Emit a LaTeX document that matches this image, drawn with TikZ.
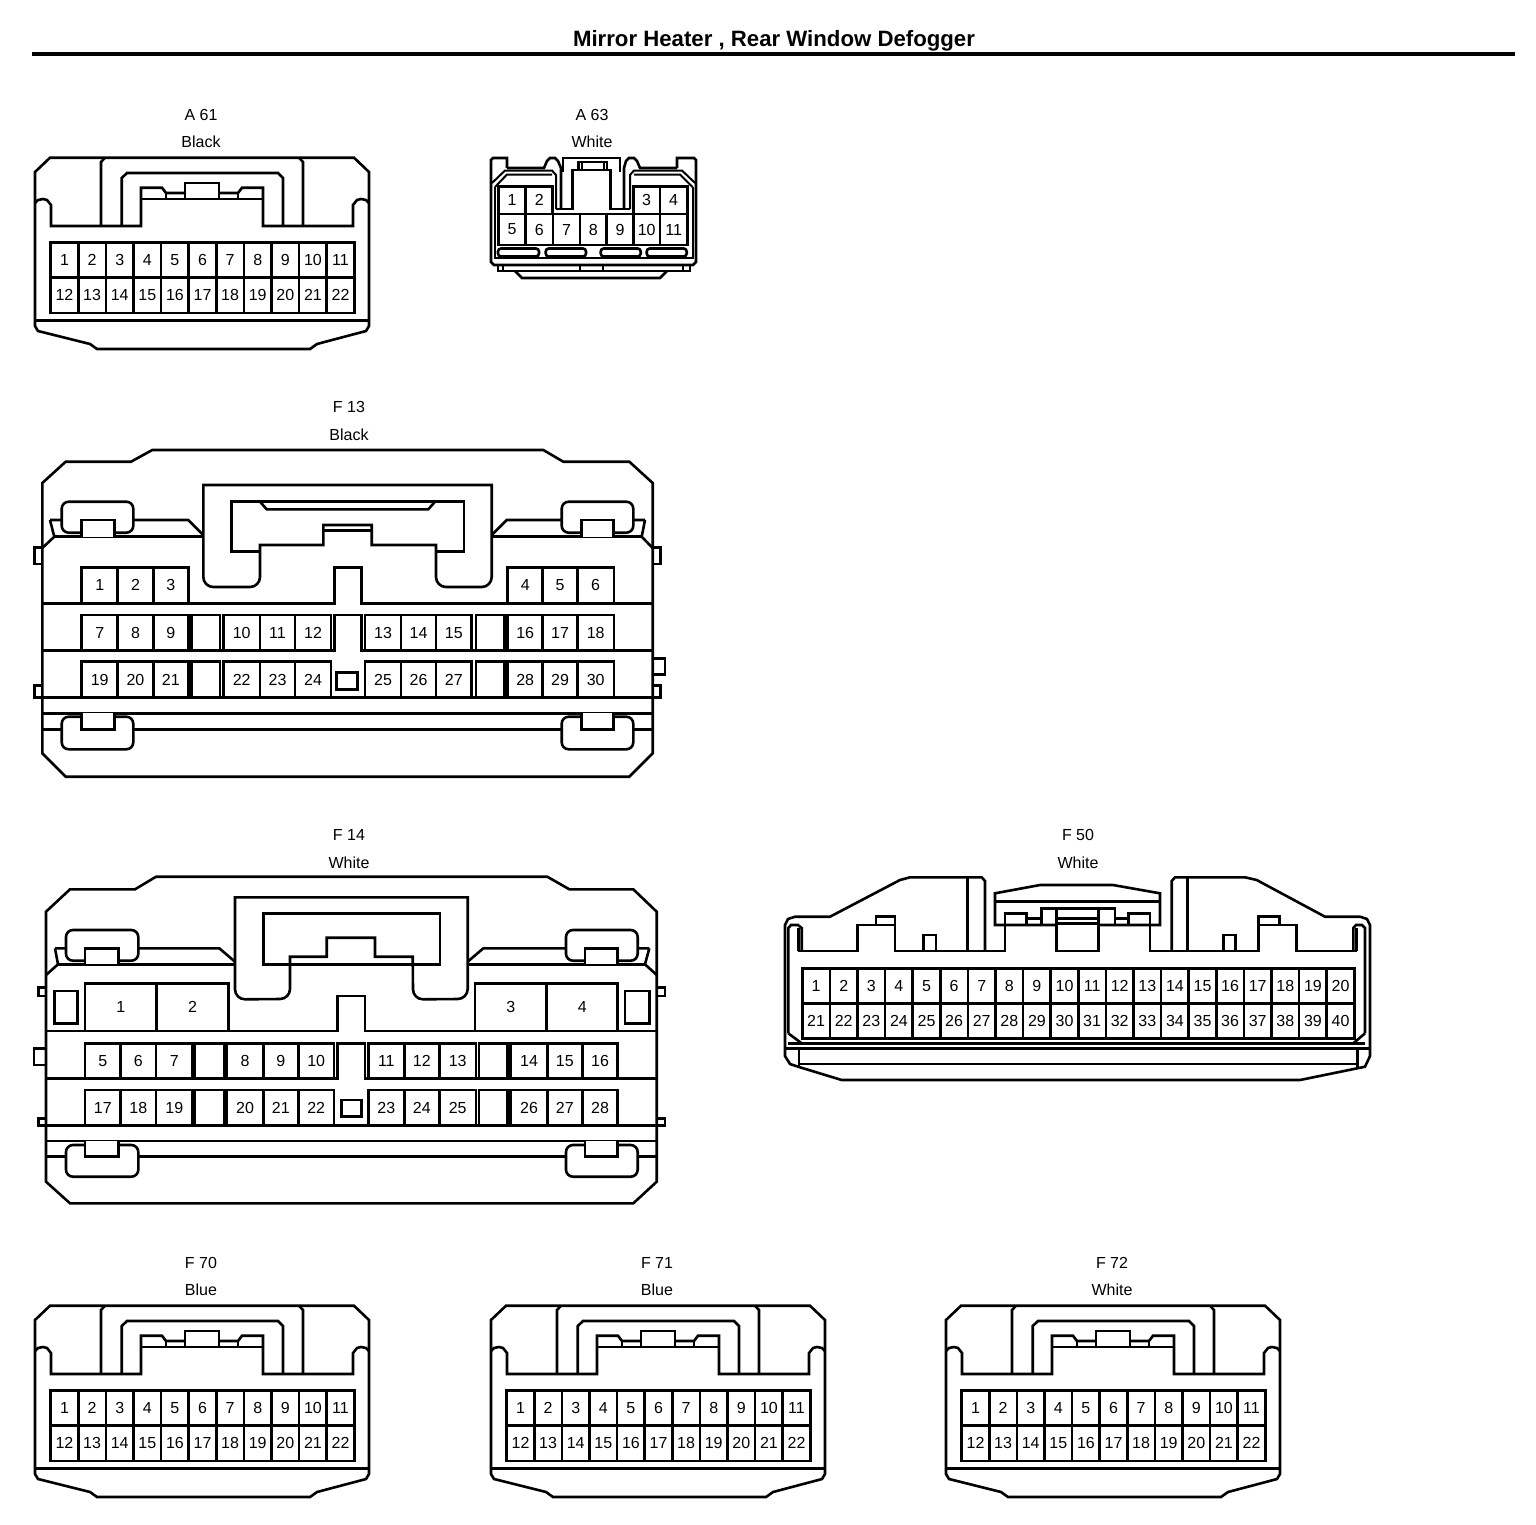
\documentclass[tikz,border=0pt]{standalone}
\usepackage{fontspec}
\setmainfont{Liberation Sans}
\tikzset{
  ln/.style={line width=2.6pt,line join=miter,line cap=butt},
  thin wall/.style={line width=2pt},
  clipbox/.style={ln,fill=white,rounded corners=7pt},
  pin/.style={inner sep=0pt,font=\fontsize{16}{18}\selectfont},
  lab/.style={inner sep=0pt,font=\fontsize{16}{18}\selectfont},
}
% row of cells: prefix, y1, y2, list a/b/text
\newcommand{\cellrow}[4]{%
  \foreach \a/\b/\t in {#4}{%
    \draw[ln] (\a,#2) rectangle (\b,#3);
    \node[pin] (#1-\t) at ({(\a+\b)/2},{(#2+#3)/2}) {\t};
  }}
\newcommand{\blankcell}[4]{\draw[ln] (#1,#3) rectangle (#2,#4);}
% regular grid: prefix, x0, y0, y1, y2, ncols
\newcommand{\pingrid}[6]{%
  \draw[ln] (#2,#3) rectangle ({#2+#6*27.6},#5);
  \draw[ln] (#2,#4) -- ({#2+#6*27.6},#4);
  \foreach \i in {1,...,#6}{%
    \ifnum\i<#6 \draw[ln] ({#2+\i*27.6},#3) -- ({#2+\i*27.6},#5);\fi
    \pgfmathtruncatemacro{\nb}{\i+#6}%
    \node[pin] (#1-\i) at ({#2+(\i-0.5)*27.6},{(#3+#4)/2}) {\i};
    \node[pin] (#1-\nb) at ({#2+(\i-0.5)*27.6},{(#4+#5)/2}) {\nb};
  }}
% 22-pin connector at offset
\newcommand{\connA}[5]{%
\begin{scope}[shift={(#2,#3)}]
  \node[lab] (#1-name) at (201,115) {#4};
  \node[lab] (#1-col) at (201,142) {#5};
  \draw[ln] (35,172)--(50,157.7)--(354,157.7)--(369,172)--(369,326)--(366,331)--(317,344)--(310,349)--(97,349)--(90,344)--(38,331)--(35,326)--cycle;
  \draw[ln] (35,320.7)--(369,320.7);
  \draw[ln] (35,203)--(38,200)--(43,199)--(47,200)--(51,205)--(51,226)--(141,226)--(141,187.7)--(162,187.7)--(166,193)--(185,193);
  \draw[ln] (219,193)--(238,193)--(242,187.7)--(263,187.7)--(263,226)--(353,226)--(353,205)--(357,200)--(361,199)--(366,200)--(369,203);
  \draw[ln] (141,199)--(263,199);
  \draw[ln] (166,193)--(166,199) (238,193)--(238,199);
  \draw[ln] (185,199)--(185,183)--(219,183)--(219,199);
  \draw[ln] (101,226)--(101,162)--(105,157.7);
  \draw[ln] (299,157.7)--(303,162)--(303,226);
  \draw[ln] (121.7,226)--(121.7,178)--(127,173)--(278,173)--(283,178)--(283,226);
  \pingrid{#1}{50.7}{242.7}{277.7}{313}{11}
\end{scope}}

\begin{document}
\begin{tikzpicture}[x=1pt,y=-1pt]
\useasboundingbox (0,0) rectangle (1536,1524);
\fill[white] (0,0) rectangle (1536,1524);
\node[inner sep=0pt,font=\fontsize{22.2}{26}\selectfont\bfseries] (title) at (774,41) {Mirror Heater , Rear Window Defogger};
\coordinate (ruleL) at (32,54); \coordinate (ruleR) at (1515,54);
\draw[line width=4pt] (ruleL)--(ruleR);

\connA{A61}{0}{0}{A 61}{Black}
\connA{F70}{0}{1148}{F 70}{Blue}
\connA{F71}{456}{1148}{F 71}{Blue}
\connA{F72}{911}{1148}{F 72}{White}

% ---------- A63
\node[lab] (A63-name) at (592,115) {A 63};
\node[lab] (A63-col) at (592,142) {White};
\draw[ln] (507,168)--(507,158)--(493,158)--(491,160)--(491,262)--(494,265)--(693,265)--(696,262)--(696,160)--(694,158)--(677,158)--(677,168);
\draw[ln] (507,168)--(544,168)--(547,161)--(550,158)--(555,158)--(558,161)--(561,168)--(561,209);
\draw[ln] (677,168)--(640,168)--(637,161)--(634,158)--(629,158)--(626,161)--(624,168)--(624,209);
\draw[ln] (563,172)--(563,158)--(620,158)--(620,172);
\draw[ln] (556,209)--(572.7,209)--(572.7,170)--(610.7,170)--(610.7,209)--(630,209);
\draw[ln] (578.3,170)--(578.3,162)--(607,162)--(607,170);
\draw[ln] (582,162)--(582,170) (604,162)--(604,170);
\draw[thin wall] (492,183)--(505,170.5)--(552,170.5)--(556,175)--(556,209);
\draw[thin wall] (695,183)--(682,170.5)--(634,170.5)--(630,175)--(630,209);
\draw[thin wall] (495,187)--(507,174.5)--(552,174.5);
\draw[thin wall] (692.5,187)--(680,174.5)--(634,174.5);
\draw[thin wall] (495,187)--(495,258)--(692.5,258)--(692.5,187);
\cellrow{A63}{186.7}{214}{498.3/525.7/1,525.7/552.7/2,633.3/660/3,660/687.3/4}
\cellrow{A63}{214}{245}{498.3/525.7/5,525.7/553/6,553/580/7,580/606.7/8,606.7/633.3/9,633.3/660/10,660/687.3/11}
\foreach \a/\b in {498/539,545.7/586,600.7/640.7,646.7/686.7}{
  \draw[ln,rounded corners=3pt] (\a,248.5) rectangle (\b,256.5);
}
\draw[thin wall] (498,265)--(498,271)--(690,271)--(690,265);
\draw[thin wall] (502.5,265)--(502.5,271) (580,265)--(580,271) (603,265)--(603,271) (683,265)--(683,271);
\draw[ln] (515,271)--(522,278)--(660,278)--(667,271);

% ---------- F13
\node[lab] (F13-name) at (349,407) {F 13};
\node[lab] (F13-col) at (349,435) {Black};
\draw[ln] (42.3,483)--(65.7,461.7)--(131,461.7)--(152.3,450)--(543.3,450)--(563.3,461.7)--(629.3,461.7)--(652.7,483)--(652.7,753.3)--(629.3,776.7)--(65.7,776.7)--(42.3,753.3)--cycle;
\draw[ln] (50,520)--(188.3,520)--(203.3,535);
\draw[ln] (491.7,535)--(506.7,520)--(645,520);
\draw[ln] (50,520)--(54.3,536.7)--(42.3,548);
\draw[ln] (645,520)--(641.7,536.7)--(652.7,548);
\draw[ln] (54.3,536.7)--(203.3,536.7) (491.7,536.7)--(641.7,536.7);
\draw[clipbox] (61.7,501.7) rectangle (133.3,532.7);
\draw[clipbox] (561.7,501.7) rectangle (633.3,532.7);
\draw[ln,fill=white] (81.7,536.7)--(81.7,520)--(114.3,520)--(114.3,536.7);
\draw[ln,fill=white] (581.7,536.7)--(581.7,520)--(613.3,520)--(613.3,536.7);
\draw[ln,fill=white] (203.3,485)--(491.7,485)--(491.7,577)arc(0:90:10)--(446,587)arc(90:180:10)--(436,545)--(371.7,545)--(371.7,525)--(323.3,525)--(323.3,545)--(260,545)--(260,577)arc(0:90:10)--(213.3,587)arc(90:180:10)--cycle;
\draw[ln] (260,551.7)--(231.7,551.7)--(231.7,501.7)--(464,501.7)--(464,551.7)--(436,551.7);
\draw[ln] (260,501.7)--(266.7,509.3)--(428.3,509.3)--(435,501.7);
\draw[ln] (323.3,530.7)--(371.7,530.7);
\draw[ln] (42.3,547.3)--(34.3,547.3)--(34.3,564)--(42.3,564);
\draw[ln] (652.7,547.3)--(660.7,547.3)--(660.7,564)--(652.7,564);
\draw[ln] (42.3,685.7)--(34.3,685.7)--(34.3,697.7)--(42.3,697.7);
\draw[ln] (652.7,685.7)--(660.7,685.7)--(660.7,697.7)--(652.7,697.7);
\draw[ln] (652.7,658.3)--(665,658.3)--(665,674.3)--(652.7,674.3);
\draw[ln] (42.3,603.3)--(334.3,603.3)--(334.3,567.3)--(361.7,567.3)--(361.7,603.3)--(652.7,603.3);
\draw[ln] (42.3,650.7)--(334.3,650.7)--(334.3,615)--(361.7,615)--(361.7,650.7)--(652.7,650.7);
\draw[ln] (42.3,697.7)--(652.7,697.7);
\draw[ln] (42.3,713.3)--(652.7,713.3);
\draw[ln] (42.3,729.3)--(652.7,729.3);
\cellrow{F13}{567.3}{603.3}{81.7/117.7/1,117.7/153.3/2,153.3/188.3/3,507.7/542.7/4,542.7/577.3/5,577.3/614/6}
\cellrow{F13}{615}{650.7}{81.7/117.7/7,117.7/153.3/8,153.3/188.3/9,223.3/260/10,260/295/11,295/331/12,365/401/13,401/436/14,436/471.7/15,507.7/542.7/16,542.7/577.3/17,577.3/614/18}
\cellrow{F13}{661.7}{697.7}{81.7/117.7/19,117.7/153.3/20,153.3/188.3/21,223.3/260/22,260/295/23,295/331/24,365/401/25,401/436/26,436/471.7/27,507.7/542.7/28,542.7/577.3/29,577.3/614/30}
\blankcell{191.7}{220}{615}{650.7}\blankcell{476}{504.3}{615}{650.7}
\blankcell{191.7}{220}{661.7}{697.7}\blankcell{476}{504.3}{661.7}{697.7}
\draw[ln] (336.7,672.7) rectangle (357.3,689.3);
\draw[clipbox] (61.7,716.7) rectangle (133.3,749.3);
\draw[clipbox] (561.7,716.7) rectangle (633.3,749.3);
\draw[ln,fill=white] (81.7,713.3)--(81.7,729.3)--(114.3,729.3)--(114.3,713.3);
\draw[ln,fill=white] (581.7,713.3)--(581.7,729.3)--(613.3,729.3)--(613.3,713.3);

% ---------- F14
\node[lab] (F14-name) at (349,835) {F 14};
\node[lab] (F14-col) at (349,863) {White};
\draw[ln] (46,911.7)--(70,889.3)--(135,889.3)--(156,876.7)--(547.3,876.7)--(569.3,889.3)--(633.3,889.3)--(656.7,911.7)--(656.7,1181.7)--(633.3,1203.3)--(70,1203.3)--(46,1181.7)--cycle;
\draw[ln] (55,948.3)--(219.3,948.3)--(235,961.7);
\draw[ln] (467.7,961.7)--(483.3,948.3)--(649.3,948.3);
\draw[ln] (55,948.3)--(58,964.3)--(46,975);
\draw[ln] (649.3,948.3)--(645,964.3)--(656.7,975);
\draw[ln] (58,964.3)--(645,964.3);
\draw[clipbox] (66,930) rectangle (138.3,960.7);
\draw[clipbox] (566,930) rectangle (637.7,960.7);
\draw[ln,fill=white] (85,964.3)--(85,948.3)--(118.3,948.3)--(118.3,964.3);
\draw[ln,fill=white] (585,964.3)--(585,948.3)--(617.7,948.3)--(617.7,964.3);
\draw[ln,fill=white] (235,897.3)--(467.7,897.3)--(467.7,989)arc(0:90:10)--(423,999.3)arc(90:180:10)--(412.7,956.7)--(375,956.7)--(375,937.7)--(326.7,937.7)--(326.7,956.7)--(290,956.7)--(290,989)arc(0:90:10)--(245,999.3)arc(90:180:10)--cycle;
\draw[ln] (263.3,964.3)--(263.3,913.3)--(440,913.3)--(440,964.3)--cycle;
\draw[ln] (46,987.3)--(38.3,987.3)--(38.3,996)--(46,996);
\draw[ln] (46,1048.3)--(34,1048.3)--(34,1065)--(46,1065);
\draw[ln] (46,1118.3)--(38.3,1118.3)--(38.3,1125.7)--(46,1125.7);
\draw[ln] (656.7,987.3)--(665,987.3)--(665,996)--(656.7,996);
\draw[ln] (656.7,1118.3)--(665,1118.3)--(665,1125.7)--(656.7,1125.7);
\draw[ln] (46,1031)--(337.3,1031)--(337.3,996)--(365,996)--(365,1031)--(656.7,1031);
\draw[ln] (46,1078.3)--(337.3,1078.3)--(337.3,1043.3)--(365,1043.3)--(365,1078.3)--(656.7,1078.3);
\draw[ln] (46,1125.7)--(656.7,1125.7);
\draw[ln] (46,1141)--(656.7,1141);
\draw[ln] (46,1156.7)--(656.7,1156.7);
\cellrow{F14}{983.3}{1031}{85/156.7/1,156.7/228.3/2,475/546.7/3,546.7/617.7/4}
\draw[ln] (54.3,991) rectangle (77.7,1023.3);
\draw[ln] (625,991) rectangle (649.3,1023.3);
\cellrow{F14}{1043.3}{1078.3}{85/120.7/5,120.7/156/6,156/192.7/7,226.7/263.3/8,263.3/298.3/9,298.3/334/10,368.3/404.3/11,404.3/439.3/12,439.3/476/13,510.7/547.3/14,547.3/582.3/15,582.3/617.7/16}
\cellrow{F14}{1090}{1125.7}{85/120.7/17,120.7/156/18,156/192.7/19,226.7/263.3/20,263.3/298.3/21,298.3/334/22,368.3/404.3/23,404.3/439.3/24,439.3/476/25,510.7/547.3/26,547.3/582.3/27,582.3/617.7/28}
\blankcell{195}{224}{1043.3}{1078.3}\blankcell{479}{507.7}{1043.3}{1078.3}
\blankcell{195}{224}{1090}{1125.7}\blankcell{479}{507.7}{1090}{1125.7}
\draw[ln] (341.7,1100) rectangle (361.7,1116.7);
\draw[clipbox] (66,1145) rectangle (138.3,1176.7);
\draw[clipbox] (566,1145) rectangle (637.7,1176.7);
\draw[ln,fill=white] (85,1141)--(85,1156.7)--(118.3,1156.7)--(118.3,1141);
\draw[ln,fill=white] (585,1141)--(585,1156.7)--(617.7,1156.7)--(617.7,1141);

% ---------- F50
\node[lab] (F50-name) at (1078,835) {F 50};
\node[lab] (F50-col) at (1078,863) {White};
\draw[ln] (985,951)--(985,881)--(981.7,877.3)--(910,877.3)--(900,880)--(830,916.7)--(795,916.7)--(788,919)--(785,925)--(785,1056)--(790,1064)--(798,1066.7)--(841.7,1080)--(1300,1080)--(1365,1066.7)--(1370,1056)--(1370,925)--(1367,919)--(1360,916.7)--(1325,916.7)--(1256.7,880)--(1245,877.3)--(1175,877.3)--(1171.7,881)--(1171.7,951);
\draw[ln] (788.3,1033.3)--(788.3,928)--(791,925)--(798,925)--(801.7,928)--(801.7,951);
\draw[ln] (798.3,928)--(798.3,951);
\draw[ln] (1365,1033.3)--(1365,928)--(1362,925)--(1356,925)--(1353.3,928)--(1353.3,951);
\draw[ln] (1356.7,928)--(1356.7,951);
\draw[ln] (798.3,951)--(857.7,951)--(857.7,925)--(895,925)--(895,951)--(1005,951)--(1005,913.3)--(1026.7,913.3)--(1026.7,925);
\draw[ln] (876,925)--(876,916.7)--(895,916.7)--(895,925);
\draw[ln] (923.3,951)--(923.3,935)--(936,935)--(936,951);
\draw[ln] (967.7,877.3)--(967.7,951);
\draw[ln] (1187.3,877.3)--(1187.3,951);
\draw[ln] (1056.7,925)--(995,925)--(995,893.3)--(1040,885)--(1113,885)--(1160,893.3)--(1160,925)--(1098.3,925);
\draw[ln] (995,901.7)--(1160,901.7);
\draw[ln] (1041.7,925)--(1041.7,908.3)--(1115,908.3)--(1115,925);
\draw[ln] (1056.7,908.3)--(1056.7,951)--(1098.3,951)--(1098.3,908.3);
\draw[ln] (1026.7,918.3)--(1041.7,918.3) (1115,918.3)--(1128.3,918.3);
\draw[ln] (1056.7,918.3)--(1098.3,918.3) (1056.7,923.3)--(1098.3,923.3);
\draw[ln] (1128.3,925)--(1128.3,913.3)--(1150,913.3)--(1150,951)--(1258.3,951)--(1258.3,925)--(1296.7,925)--(1296.7,951)--(1356.7,951);
\draw[ln] (1258.3,925)--(1258.3,916.7)--(1279.3,916.7)--(1279.3,925);
\draw[ln] (1223.3,951)--(1223.3,935)--(1235.7,935)--(1235.7,951);
\pingrid{F50}{802.3}{968.3}{1003.3}{1038.3}{20}
\draw[ln] (788.3,1033.3)--(801.7,1043.3) (1365,1033.3)--(1353.3,1043.3);
\draw[ln] (788.3,1043.3)--(1365,1043.3);
\draw[ln] (785,1048.3)--(1370,1048.3);
\draw[ln] (799,1064)--(1357.3,1064);
\draw[ln] (799,1048.3)--(799,1066.7) (1357.3,1048.3)--(1357.3,1066.7);
\end{tikzpicture}
\end{document}
